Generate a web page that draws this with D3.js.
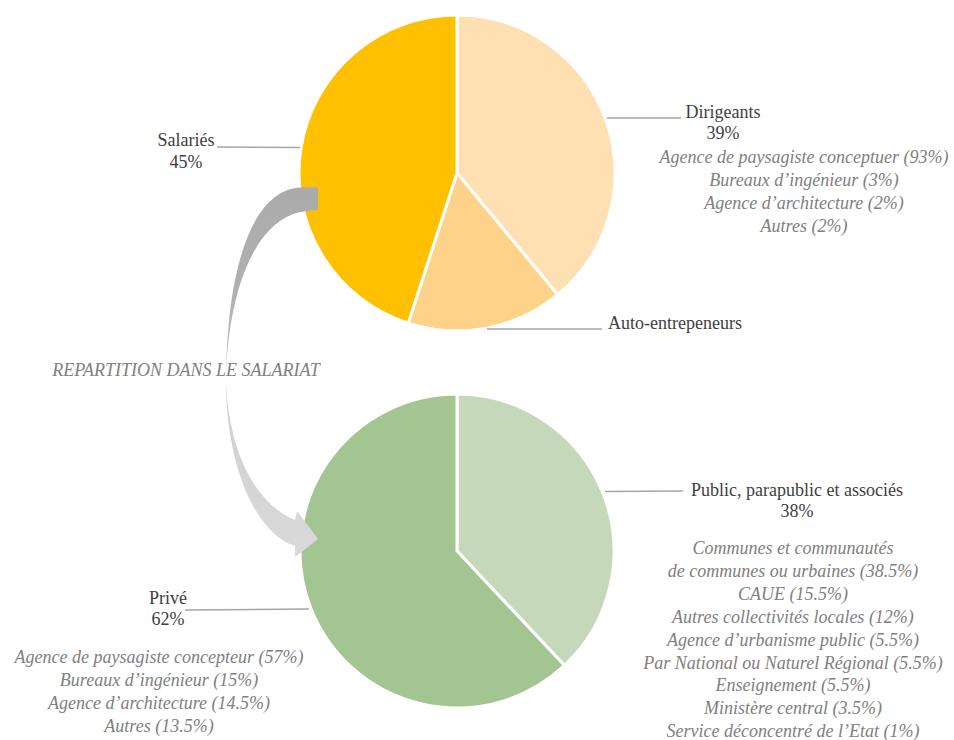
<!DOCTYPE html>
<html>
<head>
<meta charset="utf-8">
<script src="https://cdn.jsdelivr.net/npm/d3@7"></script>
<style>
  html, body { margin: 0; padding: 0; background: #fff; }
  svg { display: block; }
  svg text.lbl, svg .lbl { font-family: "Liberation Serif", Tinos, "Times New Roman", serif !important; font-size: 18px !important; }
  svg text.it { font-style: italic !important; }
</style>
</head>
<body>
<svg id="chart" width="954" height="740" font-family="Liberation Serif, serif"></svg>
<script>
// ---- DATA ----
const topCategories = ["Dirigeants", "Auto-entrepeneurs", "Salariés"];
const topValues = [39, 16, 45];

const bottomCategories = ["Public, parapublic et associés", "Privé"];
const bottomValues = [38, 62];

const dirigeantsDetails = [
  "Agence de paysagiste conceptuer (93%)",
  "Bureaux d’ingénieur (3%)",
  "Agence d’architecture (2%)",
  "Autres (2%)"
];
const publicDetails = [
  "Communes et communautés",
  "de communes ou urbaines (38.5%)",
  "CAUE (15.5%)",
  "Autres collectivités locales (12%)",
  "Agence d’urbanisme public (5.5%)",
  "Par National ou Naturel Régional (5.5%)",
  "Enseignement (5.5%)",
  "Ministère central (3.5%)",
  "Service déconcentré de l’Etat (1%)"
];
const priveDetails = [
  "Agence de paysagiste concepteur (57%)",
  "Bureaux d’ingénieur (15%)",
  "Agence d’architecture (14.5%)",
  "Autres (13.5%)"
];
const arrowTitle = "REPARTITION DANS LE SALARIAT";

// ---- STYLE / LAYOUT ----
const topColors = ["#FFE0B3", "#FFD28A", "#FFC000"];
const bottomColors = ["#C5D9BA", "#A2C591"];
const labelColor = "#404040";
const detailColor = "#808080";
const leaderColor = "#A6A6A6";

const svg = d3.select("#chart");

function drawPie(cx, cy, r, values, colors) {
  const pie = d3.pie().sort(null).value(d => d);
  const arc = d3.arc().innerRadius(0).outerRadius(r);
  const g = svg.append("g").attr("transform", `translate(${cx},${cy})`);
  g.selectAll("path").data(pie(values)).join("path")
    .attr("d", arc)
    .attr("fill", (d, i) => colors[i])
    .attr("stroke", "#fff")
    .attr("stroke-width", 3)
    .attr("stroke-linejoin", "miter");
  return g;
}

const topC = { x: 457, y: 173, r: 158 };
const botC = { x: 457, y: 551, r: 157 };

// ---- PIES ----
drawPie(topC.x, topC.y, topC.r, topValues, topColors);
drawPie(botC.x, botC.y, botC.r, bottomValues, bottomColors);

// ---- ARROW (decorative, on top of the pies) ----
const defs = svg.append("defs");
const grad = defs.append("linearGradient").attr("id", "arrowGrad")
  .attr("gradientUnits", "userSpaceOnUse")
  .attr("x1", 0).attr("y1", 187).attr("x2", 0).attr("y2", 557);
grad.append("stop").attr("offset", "0").attr("stop-color", "#ABABAB");
grad.append("stop").attr("offset", "0.3").attr("stop-color", "#B0B0B0");
grad.append("stop").attr("offset", "0.55").attr("stop-color", "#CDCDCD");
grad.append("stop").attr("offset", "1").attr("stop-color", "#DADADA");

const p = d3.path();
p.moveTo(318, 187);
p.lineTo(300, 187.5);
p.bezierCurveTo(255, 190, 227, 260, 226, 380);
p.bezierCurveTo(228, 455, 258, 505, 295, 520);
p.lineTo(297, 511);
p.lineTo(318, 539);
p.lineTo(295, 557);
p.lineTo(295, 546);
p.bezierCurveTo(258, 535, 226, 470, 226, 380);
p.bezierCurveTo(228, 290, 255, 222, 300, 212);
p.lineTo(318, 210);
p.closePath();
svg.append("path").attr("d", p.toString()).attr("fill", "url(#arrowGrad)");

// ---- LABELS ----
const labels = svg.append("g").attr("font-family", "Liberation Serif, serif").attr("font-size", 18);
function leader(x1, y1, x2, y2) {
  svg.append("line").attr("x1", x1).attr("y1", y1).attr("x2", x2).attr("y2", y2)
    .attr("stroke", leaderColor).attr("stroke-width", 1.6);
}
function textLines(x, y, lines, opts) {
  lines.forEach((l, i) => {
    labels.append("text")
      .attr("class", opts.italic ? "lbl it" : "lbl")
      .attr("x", x).attr("y", y + i * opts.lh)
      .attr("fill", opts.color)
      .attr("text-anchor", opts.anchor || "middle")
      .text(l);
  });
}

// Dirigeants
leader(607, 118, 681, 118);
textLines(723, 118, [topCategories[0], topValues[0] + "%"], { color: labelColor, lh: 21 });
textLines(804, 163, dirigeantsDetails, { color: detailColor, italic: true, lh: 23 });

// Auto-entrepeneurs
leader(487, 329, 602, 329);
textLines(608, 329, [topCategories[1]], { color: labelColor, anchor: "start", lh: 21 });

// Salariés
leader(217, 147, 300, 147.5);
textLines(186, 146, [topCategories[2], topValues[2] + "%"], { color: labelColor, lh: 22 });

// Arrow title
textLines(186, 376, [arrowTitle], { color: detailColor, italic: true, lh: 23 });

// Public
leader(605, 491.5, 683, 491);
textLines(797, 496, [bottomCategories[0], bottomValues[0] + "%"], { color: labelColor, lh: 21 });
textLines(793, 554, publicDetails, { color: detailColor, italic: true, lh: 22.9 });

// Privé
leader(185, 610, 309, 609);
textLines(168, 604, [bottomCategories[1], bottomValues[1] + "%"], { color: labelColor, lh: 21 });
textLines(159, 663, priveDetails, { color: detailColor, italic: true, lh: 23 });
</script>
</body>
</html>
